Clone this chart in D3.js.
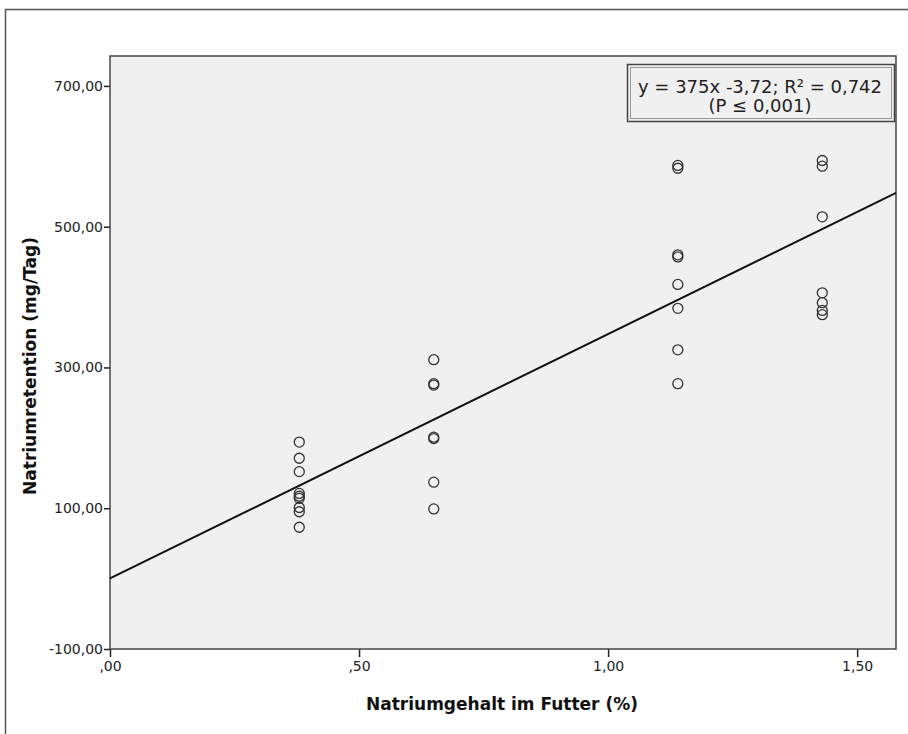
<!DOCTYPE html>
<html>
<head>
<meta charset="utf-8">
<script src="https://cdn.jsdelivr.net/npm/d3@7"></script>
<style>
  body { margin: 0; background: #fff; }
  svg { display: block; font-family: "DejaVu Sans", Arial, sans-serif; }
</style>
</head>
<body>
<div id="chart"></div>
<script>
(function(){
  'use strict';

  // Natriumgehalt im Futter (%) per group
  var groupX = [0.38, 0.65, 1.14, 1.43];
  // Natriumretention (mg/Tag) per group
  var groupY = [
    [194, 171, 152, 121, 117, 114, 101, 95, 73],
    [311, 277, 275, 201, 199, 137, 99],
    [587, 583, 460, 457, 418, 384, 325, 277],
    [594, 586, 514, 406, 392, 381, 375]
  ];
  var xTicks = [0, 0.5, 1.0, 1.5];
  var yTicks = [-100, 100, 300, 500, 700];
  // fit line as drawn in the picture (start and end value)
  var fitLine = [[0, 0.3], [1.578, 548]];
  var legendLines = ["y = 375x -3,72; R\u00B2 = 0,742", "(P \u2264 0,001)"];

  var W = 908, H = 734;
  var plot = { left: 110, top: 56, right: 896, bottom: 649 };

  var svg = d3.select("#chart").append("svg")
    .attr("width", W).attr("height", H);

  // outer frame
  svg.append("rect")
    .attr("x", 5.5).attr("y", 9.5)
    .attr("width", 920).attr("height", 740)
    .attr("fill", "#fff").attr("stroke", "#555").attr("stroke-width", 1.5);

  var x = d3.scaleLinear().domain([0, 1.578]).range([plot.left, plot.right]);
  var y = d3.scaleLinear().domain([-100, 742.5]).range([plot.bottom, plot.top]);

  // SPSS style: comma decimals, no leading zero, plain hyphen
  var fmt = function(v){
    var s = d3.format(".2f")(v).replace("\u2212", "-").replace(".", ",");
    return s.replace(/^0,/, ",").replace(/^-0,/, "-,");
  };

  // plot background
  svg.append("rect")
    .attr("x", plot.left).attr("y", plot.top)
    .attr("width", plot.right - plot.left).attr("height", plot.bottom - plot.top)
    .attr("fill", "#f0f0f0");

  // y axis
  var yAxis = svg.append("g")
    .attr("transform", "translate(" + plot.left + ",0)")
    .call(d3.axisLeft(y).tickValues(yTicks).tickFormat(fmt).tickSize(6).tickSizeOuter(0));
  yAxis.select(".domain").remove();
  yAxis.selectAll("line").attr("stroke", "#222").attr("stroke-width", 1.5);
  yAxis.selectAll("text").attr("font-size", 14).attr("fill", "#222")
    .attr("font-family", "DejaVu Sans, Arial, sans-serif").attr("x", -7);

  // x axis
  var xAxis = svg.append("g")
    .attr("transform", "translate(0," + plot.bottom + ")")
    .call(d3.axisBottom(x).tickValues(xTicks).tickFormat(fmt).tickSize(8).tickSizeOuter(0));
  xAxis.select(".domain").remove();
  xAxis.selectAll("line").attr("stroke", "#222").attr("stroke-width", 1.5);
  xAxis.selectAll("text").attr("font-size", 14).attr("fill", "#222")
    .attr("font-family", "DejaVu Sans, Arial, sans-serif").attr("y", 12);

  // plot border
  svg.append("rect")
    .attr("x", plot.left).attr("y", plot.top)
    .attr("width", plot.right - plot.left).attr("height", plot.bottom - plot.top)
    .attr("fill", "none").attr("stroke", "#444").attr("stroke-width", 1.5);

  // fit line
  svg.append("line")
    .attr("x1", x(fitLine[0][0])).attr("y1", y(fitLine[0][1]))
    .attr("x2", x(fitLine[1][0])).attr("y2", y(fitLine[1][1]))
    .attr("stroke", "#111").attr("stroke-width", 2);

  // points
  var points = [];
  groupX.forEach(function(gx, i){
    groupY[i].forEach(function(v){ points.push({ x: gx, y: v }); });
  });
  svg.append("g").selectAll("circle")
    .data(points).enter().append("circle")
    .attr("cx", function(d){ return x(d.x); })
    .attr("cy", function(d){ return y(d.y); })
    .attr("r", 5)
    .attr("fill", "none").attr("stroke", "#333").attr("stroke-width", 1.3);

  // legend box with double border
  var lg = svg.append("g");
  lg.append("rect").attr("x", 627.5).attr("y", 64.5).attr("width", 267).attr("height", 57)
    .attr("fill", "#f0f0f0").attr("stroke", "#444").attr("stroke-width", 1.5);
  lg.append("rect").attr("x", 630.5).attr("y", 67.5).attr("width", 261).attr("height", 51)
    .attr("fill", "none").attr("stroke", "#999").attr("stroke-width", 1);
  lg.selectAll("text").data(legendLines).enter().append("text")
    .attr("x", 760).attr("y", function(d, i){ return 93 + i * 19; })
    .attr("text-anchor", "middle").attr("font-size", 18).attr("fill", "#222")
    .text(function(d){ return d; });

  // axis titles
  svg.append("text")
    .attr("x", 502).attr("y", 710)
    .attr("text-anchor", "middle").attr("font-size", 17).attr("font-weight", "bold")
    .attr("fill", "#111")
    .text("Natriumgehalt im Futter (%)");

  svg.append("text")
    .attr("transform", "translate(36,366) rotate(-90)")
    .attr("text-anchor", "middle").attr("font-size", 17).attr("font-weight", "bold")
    .attr("fill", "#111")
    .text("Natriumretention (mg/Tag)");
})();
</script>
</body>
</html>
